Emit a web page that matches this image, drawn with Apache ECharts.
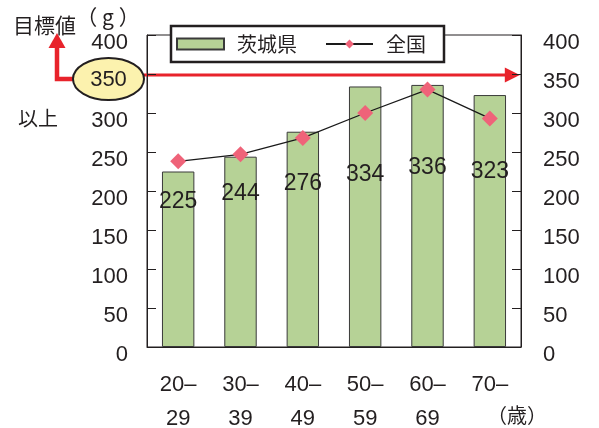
<!DOCTYPE html>
<html>
<head>
<meta charset="utf-8">
<script src="https://cdn.jsdelivr.net/npm/echarts@6/dist/echarts.min.js"></script>
<style>
  html, body { margin: 0; padding: 0; background: #fff; }
  #chart { width: 599px; height: 428px; }
</style>
</head>
<body>
<div id="chart"></div>
<script>
// Age groups (years)
const categories = ['20–\n29', '30–\n39', '40–\n49', '50–\n59', '60–\n69', '70–'];
// Vegetable intake per day (g): Ibaraki prefecture vs. national average
const ibaraki = [225, 244, 276, 334, 336, 323];
const zenkoku = [238, 247, 268, 300, 330, 293];
// Daily target
const target = 350;
// Value-axis range
const yMin = 0, yMax = 400, yStep = 50;

// Vertical nudge of each bar's value label below the bar top (px)
const labelDy = [19, 25, 40, 77, 71, 65];

const NUM = '"Liberation Sans", Arial, sans-serif';
const CJK = '"Noto Sans CJK JP", sans-serif';
const INK = '#231f20';
const RED = '#e8232b';

const chart = echarts.init(document.getElementById('chart'), null, { renderer: 'canvas' });

function valueAxis(position, margin, hideTarget) {
  return {
    type: 'value', position, min: yMin, max: yMax, interval: yStep,
    axisLine: { show: true, lineStyle: { color: INK, width: 1 } },
    axisTick: { show: true, inside: true, length: 9, lineStyle: { color: INK } },
    splitLine: { show: false },
    axisLabel: {
      margin, fontFamily: NUM, fontSize: 22, color: INK,
      verticalAlign: 'top', lineHeight: 16,
      formatter: v => (hideTarget && v === target) ? '' : String(v)
    }
  };
}

chart.setOption({
  animation: false,
  grid: {
    left: 147, right: 78, top: 35, bottom: 81, outerBoundsMode: 'none',
    show: true, borderColor: INK, borderWidth: 1, backgroundColor: 'transparent'
  },
  legend: {
    left: 171, top: 26, orient: 'horizontal',
    backgroundColor: '#fff', borderColor: INK, borderWidth: 2.5,
    padding: [8, 18, 8, 5], itemGap: 28, itemWidth: 47, itemHeight: 11,
    lineStyle: { width: 2, color: '#1a1a1a' },
    textStyle: { fontFamily: CJK, fontSize: 20, color: INK, padding: [0, 0, 0, 8] },
    data: [{ name: '茨城県', icon: 'rect' }, { name: '全国' }]
  },
  xAxis: {
    type: 'category', data: categories,
    axisLine: { lineStyle: { color: INK, width: 1 } },
    axisTick: { inside: true, length: 8, lineStyle: { color: INK } },
    axisLabel: { interval: 0, margin: 21, fontFamily: NUM, fontSize: 22, lineHeight: 34, color: INK }
  },
  yAxis: [valueAxis('left', 19, true), valueAxis('right', 22, false)],
  series: [
    {
      name: '茨城県', type: 'bar', barWidth: '52%',
      itemStyle: { color: '#b6d296', borderColor: '#3a3a3a', borderWidth: 1 },
      data: ibaraki.map((v, i) => ({
        value: v,
        label: { offset: [0, labelDy[i]] }
      })),
      label: {
        show: true, position: 'insideTop', distance: 0,
        fontFamily: NUM, fontSize: 23, color: INK, letterSpacing: -1
      },
      z: 2
    },
    {
      name: '全国', type: 'line', data: zenkoku,
      symbol: 'diamond', symbolSize: 16,
      lineStyle: { color: '#1a1a1a', width: 1.3 },
      itemStyle: { color: '#ef6379' },
      z: 3
    }
  ]
});

// Target marker: callout ellipse on the left axis with a red guide line across the plot
const yT = chart.convertToPixel({ yAxisIndex: 0 }, target);
const xRight = chart.convertToPixel({ xAxisIndex: 0 }, categories.length - 1) + 31;
const eCx = 108.5, eCy = yT + 5, eRx = 35.5, eRy = 21;

chart.setOption({
  graphic: [
    { type: 'text', x: 13, y: 25, style: { text: '目標値', fontFamily: CJK, fontSize: 21, fill: INK, align: 'left', verticalAlign: 'middle' } },
    { type: 'text', x: 108, y: 17, style: { text: '（ g ）', fontFamily: CJK, fontSize: 21, fill: INK, align: 'center', verticalAlign: 'middle', letterSpacing: -3 } },
    { type: 'text', x: 18, y: 118, style: { text: '以上', fontFamily: CJK, fontSize: 20, fill: INK, align: 'left', verticalAlign: 'middle' } },
    { type: 'text', x: 517, y: 415, style: { text: '（歳）', fontFamily: CJK, fontSize: 20, fill: INK, align: 'center', verticalAlign: 'middle' } },
    { type: 'polyline', shape: { points: [[eCx - eRx + 1, eCy], [57, eCy], [57, 46]] }, style: { stroke: RED, lineWidth: 4.5, fill: null } },
    { type: 'polygon', shape: { points: [[57, 33], [48.5, 48], [65.5, 48]] }, style: { fill: RED } },
    { type: 'line', shape: { x1: eCx + eRx, y1: yT + 1, x2: xRight - 15, y2: yT + 1 }, style: { stroke: RED, lineWidth: 3 } },
    { type: 'polygon', shape: { points: [[xRight - 16, yT - 6.5], [xRight - 1, yT + 1], [xRight - 16, yT + 8.5]] }, style: { fill: RED } },
    { type: 'ellipse', shape: { cx: eCx, cy: eCy, rx: eRx, ry: eRy }, style: { fill: '#fcf2ae', stroke: INK, lineWidth: 2 } },
    { type: 'text', x: eCx, y: eCy + 1, style: { text: String(target), fontFamily: NUM, fontSize: 22, fill: INK, align: 'center', verticalAlign: 'middle' } }
  ]
});
</script>
</body>
</html>
